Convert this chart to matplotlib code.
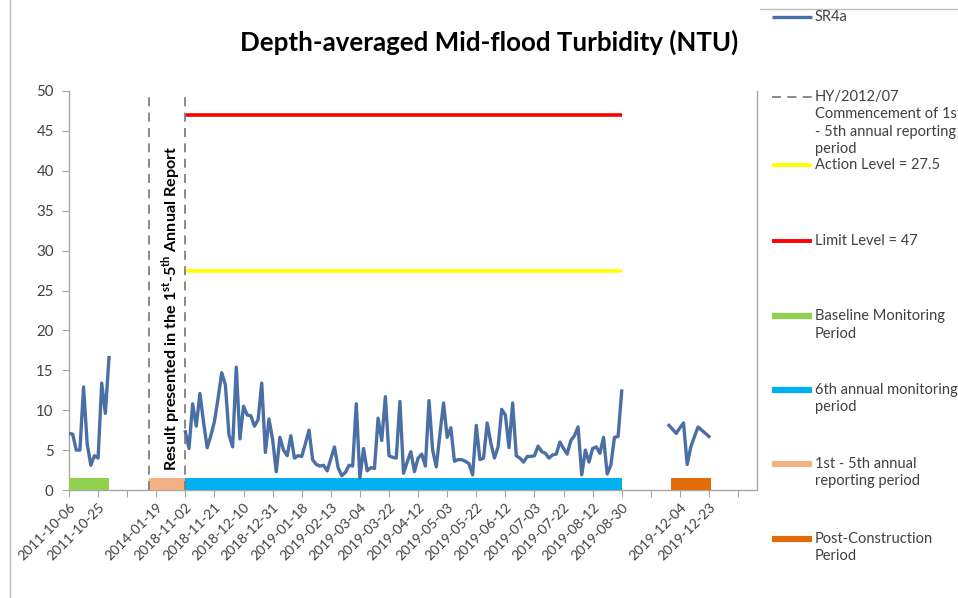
import matplotlib
matplotlib.use('Agg')
import matplotlib.pyplot as plt
from matplotlib.lines import Line2D

plt.rcParams['font.family'] = ['Lato', 'DejaVu Sans']
plt.rcParams['mathtext.fontset'] = 'custom'
plt.rcParams['mathtext.rm'] = 'Lato'
plt.rcParams['mathtext.bf'] = 'Lato:bold'

# Category axis: one category per sample, a tick every 8 categories
tick_labels = ['2011-10-06', '2011-10-25', '', '2014-01-19', '2018-11-02', '2018-11-21',
               '2018-12-10', '2018-12-31', '2019-01-18', '2019-02-13', '2019-03-04',
               '2019-03-22', '2019-04-12', '2019-05-03', '2019-05-22', '2019-06-12',
               '2019-07-03', '2019-07-22', '2019-08-12', '2019-08-30', '',
               '2019-12-04', '2019-12-23', '']

# SR4a turbidity (NTU), baseline monitoring (categories 0..11)
baseline_start = 0
baseline_vals = [7.1, 7.0, 5.0, 5.0, 12.9, 5.8, 3.1, 4.3, 4.0, 13.4, 9.6, 16.6]

# 6th annual monitoring period (categories 32..152)
monitor_start = 32
monitor_vals = [7.3, 5.2, 10.8, 8.0, 12.1, 8.5, 5.3, 6.8, 8.6, 11.5,
                14.7, 13.2, 6.9, 5.4, 15.4, 6.4, 10.5, 9.4, 9.3, 8.0,
                8.8, 13.4, 4.7, 8.9, 6.3, 2.3, 6.6, 5.0, 4.3, 6.8,
                4.0, 4.3, 4.2, 5.8, 7.5, 3.8, 3.2, 3.0, 3.1, 2.4,
                3.9, 5.4, 2.8, 1.8, 2.2, 3.1, 3.0, 10.8, 1.5, 5.2,
                2.4, 2.8, 2.7, 9.0, 6.2, 11.7, 4.3, 4.1, 4.0, 11.1,
                2.1, 3.5, 4.8, 2.3, 4.0, 4.5, 3.0, 11.2, 5.0, 2.9,
                7.0, 10.9, 6.6, 7.8, 3.6, 3.8, 3.8, 3.6, 3.3, 1.9,
                8.1, 3.8, 4.0, 8.4, 5.9, 4.0, 5.4, 10.1, 9.4, 5.3,
                10.9, 4.3, 4.0, 3.5, 4.2, 4.2, 4.3, 5.5, 4.8, 4.6,
                4.0, 4.4, 4.5, 6.0, 5.2, 4.5, 6.2, 6.8, 7.9, 1.9,
                5.0, 3.5, 5.2, 5.4, 4.6, 6.6, 2.0, 3.1, 6.6, 6.7,
                12.4]

# Post-construction (categories 165..176)
post_start = 165
post_vals = [8.1, 7.6, 7.1, 7.8, 8.4, 3.2, 5.4, 6.7, 7.9, 7.5, 7.1, 6.7]

action_level = 27.5
limit_level = 47

# period bars: (start category, end category)
baseline_period = (0, 11)
reporting_period = (22, 32)
sixth_period = (32, 152)
post_period = (165.5, 176.5)
commence_lines = [22, 32]

c_line = '#4A6FA5'
c_green = '#92D050'
c_peach = '#F4B183'
c_blue = '#00B0F0'
c_orange = '#E36C0A'
c_gray = '#808080'
c_axis = '#A6A6A6'
c_text = '#404040'

W, H = 958, 598
fig = plt.figure(figsize=(W / 100, H / 100), dpi=100)
ax = fig.add_axes([69 / W, 1 - 490 / H, (757 - 69) / W, (490 - 91) / H])

ax.plot(range(baseline_start, baseline_start + len(baseline_vals)), baseline_vals,
        color=c_line, lw=2.4, zorder=4)
ax.plot(range(monitor_start, monitor_start + len(monitor_vals)), monitor_vals,
        color=c_line, lw=2.4, zorder=4)
ax.plot(range(post_start, post_start + len(post_vals)), post_vals,
        color=c_line, lw=2.4, zorder=4)

ax.plot(sixth_period, [action_level] * 2, color='#FFFF00', lw=2.6, solid_capstyle='butt')
ax.plot(sixth_period, [limit_level] * 2, color='#FF0000', lw=2.6, solid_capstyle='butt')

bar_h = 1.55
for (s, e), col in [(baseline_period, c_green), (reporting_period, c_peach),
                    (sixth_period, c_blue), (post_period, c_orange)]:
    ax.broken_barh([(s, e - s)], (0, bar_h), facecolors=col, zorder=3)

for x in commence_lines:
    ax.plot([x, x], [0, 50], color=c_gray, lw=1.3, ls=(0, (5, 3.5)), zorder=5)

ax.text(28.1, 22.8, r'Result presented in the 1$^{\mathbf{st}}$-5$^{\mathbf{th}}$ Annual Report',
        rotation=90, ha='center', va='center', fontsize=11.6, fontweight='bold',
        color='#000000', zorder=6)

ax.set_xlim(0, 189.2)
ax.set_ylim(0, 50)
ax.set_yticks(range(0, 51, 5))
ax.set_xticks(range(0, 8 * len(tick_labels), 8))
ax.set_xticklabels(tick_labels, rotation=45, ha='right', va='top',
                   rotation_mode='anchor', fontsize=10, color=c_text)
ax.tick_params(axis='y', labelsize=10.8, labelcolor=c_text, length=5, color=c_axis, pad=6)
ax.tick_params(axis='x', length=5, color=c_axis, pad=3)
for side in ['left', 'bottom', 'right']:
    ax.spines[side].set_color(c_axis)
    ax.spines[side].set_linewidth(1)
ax.spines['top'].set_visible(False)

fig.text(489 / W, 1 - 42 / H, 'Depth-averaged Mid-flood Turbidity (NTU)',
         ha='center', va='center', fontsize=18.6, fontweight='bold', color='#000000')

# legend, drawn at the right side
def fx(p):
    return p / W

def fy(p):
    return 1 - p / H

legend_items = [
    (17, ['SR4a'], dict(color=c_line, lw=2.4)),
    (97, ['HY/2012/07', 'Commencement of 1st', '- 5th annual reporting', 'period'],
     dict(color=c_gray, lw=1.3, ls=(0, (5, 3.5)))),
    (165, ['Action Level = 27.5'], dict(color='#FFFF00', lw=2.8)),
    (241, ['Limit Level = 47'], dict(color='#FF0000', lw=2.8)),
    (316, ['Baseline Monitoring', 'Period'], dict(color=c_green, lw=4.5)),
    (390, ['6th annual monitoring', 'period'], dict(color=c_blue, lw=4.5)),
    (464, ['1st - 5th annual', 'reporting period'], dict(color=c_peach, lw=4.5)),
    (539, ['Post-Construction', 'Period'], dict(color=c_orange, lw=4.5)),
]
for y, lines, style in legend_items:
    fig.add_artist(Line2D([fx(772), fx(812)], [fy(y), fy(y)], solid_capstyle='butt', **style))
    for k, t in enumerate(lines):
        fig.text(fx(815), fy(y + k * 17.5), t, ha='left', va='center',
                 fontsize=10.5, color=c_text)

# chart frame pieces
fig.add_artist(Line2D([fx(10), fx(10)], [0, 1], color='#BFBFBF', lw=1))
fig.add_artist(Line2D([fx(760), 1], [fy(9), fy(9)], color='#BFBFBF', lw=1))

fig.savefig('out.png', dpi=100)
